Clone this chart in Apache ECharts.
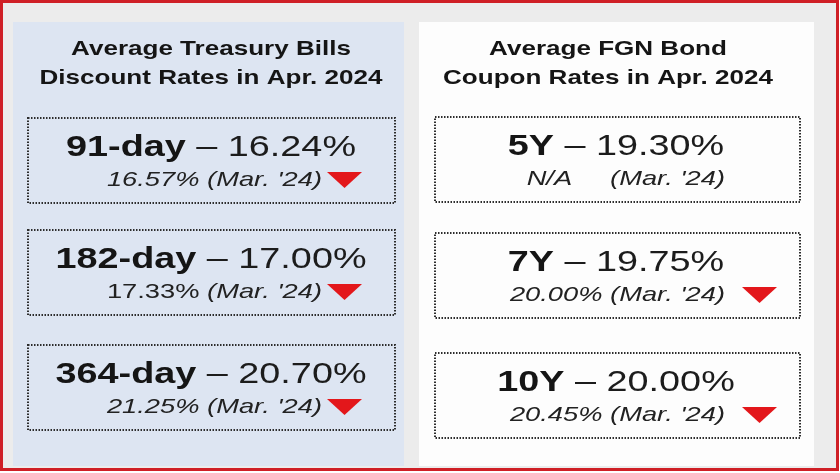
<!DOCTYPE html>
<html>
<head>
<meta charset="utf-8">
<script src="https://cdn.jsdelivr.net/npm/echarts@6/dist/echarts.min.js"></script>
<style>
  html, body { margin: 0; padding: 0; background: #ffffff; }
  #main { width: 840px; height: 473px; }
</style>
</head>
<body>
<div id="main"></div>
<script>
// ---- data ----
var billTitle = ['Average Treasury Bills', 'Discount Rates in Apr. 2024'];
var billTenors = ['91-day', '182-day', '364-day'];
var billRatesApr = [16.24, 17.00, 20.70];
var billRatesMar = [16.57, 17.33, 21.25];
var billPrevItalic = [true, false, true];

var bondTitle = ['Average FGN Bond', 'Coupon Rates in Apr. 2024'];
var bondTenors = ['5Y', '7Y', '10Y'];
var bondRatesApr = [19.30, 19.75, 20.00];
var bondRatesMar = [null, 20.00, 20.45];
var bondPrevItalic = [true, true, true];

var prevLabel = "(Mar. '24)";

// ---- style ----
var FONT = '"Liberation Sans", Arial, sans-serif';
var TXT = '#151515';
var RED = '#e3171b';

var W = 840, H = 473;

var chart = echarts.init(document.getElementById('main'));
var g = [];

// background + outer red frame
g.push({ type: 'rect', shape: { x: 0, y: 0, width: W, height: H }, style: { fill: '#ffffff' } });
g.push({ type: 'rect', shape: { x: 1.5, y: 1.5, width: 836, height: 468 },
  style: { fill: '#ececec', stroke: '#cf1f26', lineWidth: 3 } });

// text helper, stretched horizontally like the source picture
function txt(x, y, text, size, opt) {
  opt = opt || {};
  g.push({
    type: 'text', x: x, y: y, scaleX: opt.scale || 1.25, z: 10,
    style: {
      x: 0, y: 0, text: text, fill: opt.color || TXT,
      font: (opt.italic ? 'italic ' : '') + (opt.bold ? 'bold ' : '') + size + 'px ' + FONT,
      textAlign: opt.align || 'center', textVerticalAlign: 'middle',
      rich: opt.rich
    }
  });
}

function panel(p, title, tenors, apr, mar, italics) {
  g.push({ type: 'rect', shape: { x: p.x, y: 22, width: p.w, height: 444 }, style: { fill: p.fill } });

  txt(p.titleX, 49, title[0], 21, { bold: true, scale: 1.24 });
  txt(p.titleX, 78, title[1], 21, { bold: true, scale: 1.24 });

  for (var i = 0; i < tenors.length; i++) {
    var top = p.boxTop[i];
    var right = p.boxX + p.boxW;
    g.push({
      type: 'rect', z: 5,
      shape: { x: p.boxX, y: top, width: p.boxW, height: 85 },
      style: { fill: 'none', stroke: '#2c2c2c', lineWidth: 2, lineDash: [1.5, 1.5] }
    });

    // main line: tenor bold + current rate
    txt(p.mainX, top + 30, '{b|' + tenors[i] + '}{n| \u2013 ' + apr[i].toFixed(2) + '%}', 30, {
      scale: 1.26,
      rich: {
        b: { font: 'bold 30px ' + FONT, fill: TXT },
        n: { font: '30px ' + FONT, fill: '#1c1c1c' }
      }
    });

    // previous month line
    var subY = top + 62;
    var subRight = right - p.subRightOff;
    if (mar[i] == null) {
      txt(subRight, subY, "N/A     " + prevLabel, 21, { italic: true, align: 'right', scale: 1.3, color: '#222' });
    } else {
      var rate = mar[i].toFixed(2) + '% ';
      var it = italics[i] ? 'italic ' : '';
      txt(subRight, subY, '{a|' + rate + '}{m|' + prevLabel + '}', 21, {
        align: 'right', scale: 1.3,
        rich: {
          a: { font: it + '21px ' + FONT, fill: '#222' },
          m: { font: 'italic 21px ' + FONT, fill: '#222' }
        }
      });
      if (apr[i] < mar[i]) {
        var tx = right - p.triOff;
        var ty = subY - 8;
        g.push({
          type: 'polygon', z: 10,
          shape: { points: [[tx, ty], [tx + 35, ty], [tx + 17.5, ty + 16]] },
          style: { fill: RED }
        });
      }
    }
  }
}

panel({ x: 13, w: 391, fill: '#dde5f2', titleX: 211, boxX: 28, boxW: 367,
        mainX: 211, boxTop: [118, 230, 345], subRightOff: 73, triOff: 68 },
      billTitle, billTenors, billRatesApr, billRatesMar, billPrevItalic);

panel({ x: 419, w: 395, fill: '#fdfdfd', titleX: 608, boxX: 435, boxW: 365,
        mainX: 616, boxTop: [117, 233, 353], subRightOff: 75, triOff: 58 },
      bondTitle, bondTenors, bondRatesApr, bondRatesMar, bondPrevItalic);

chart.setOption({ animation: false, graphic: { elements: g } });
</script>
</body>
</html>
